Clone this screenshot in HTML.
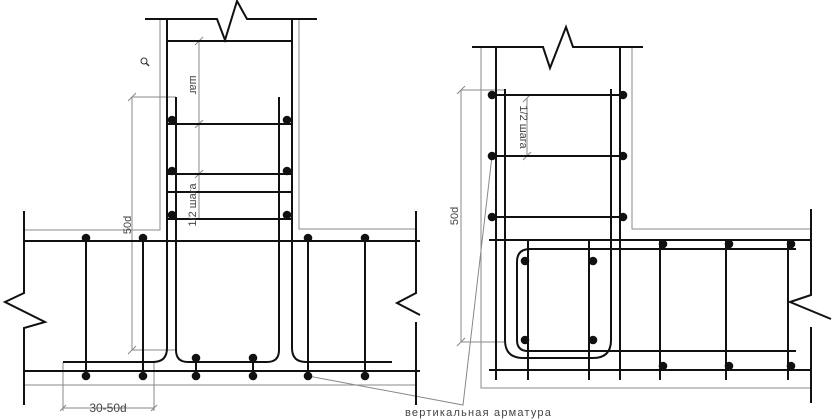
<!DOCTYPE html>
<html><head><meta charset="utf-8"><style>
html,body{margin:0;padding:0;background:#fff;}
svg{display:block;}
text{font-family:"Liberation Sans","DejaVu Sans",sans-serif;fill:#444;}
</style></head><body>
<svg width="840" height="420" viewBox="0 0 840 420" xmlns="http://www.w3.org/2000/svg">
<g fill="none" stroke="#888" stroke-width="1">
  <polyline points="160,19 160,230 25,230"/>
  <polyline points="299,19 299,229 415,229"/>
  <line x1="25" y1="385" x2="416" y2="385"/>
  <line x1="132" y1="97" x2="132" y2="350"/>
  <line x1="132" y1="97" x2="176" y2="97"/>
  <line x1="132" y1="350" x2="176" y2="350"/>
  <line x1="128" y1="101" x2="136" y2="93"/>
  <line x1="128" y1="354" x2="136" y2="346"/>
  <line x1="199" y1="41" x2="199" y2="219"/>
  <line x1="195" y1="45" x2="203" y2="37"/>
  <line x1="195" y1="128" x2="203" y2="120"/>
  <line x1="195" y1="178" x2="203" y2="170"/>
  <line x1="63" y1="362" x2="63" y2="411"/>
  <line x1="154" y1="362" x2="154" y2="411"/>
  <line x1="63" y1="408" x2="154" y2="408"/>
  <line x1="60" y1="411" x2="66" y2="405"/>
  <line x1="151" y1="411" x2="157" y2="405"/>
  <polyline points="308,376 463,405 492,156"/>
  <polyline points="481,47 481,388 810,388"/>
  <polyline points="632,47 632,229 810,229"/>
  <line x1="461" y1="90" x2="461" y2="342"/>
  <line x1="461" y1="90" x2="505" y2="90"/>
  <line x1="461" y1="342" x2="505" y2="342"/>
  <line x1="457" y1="94" x2="465" y2="86"/>
  <line x1="457" y1="346" x2="465" y2="338"/>
  <line x1="527" y1="98" x2="527" y2="156"/>
  <line x1="523" y1="102" x2="531" y2="94"/>
  <line x1="523" y1="160" x2="531" y2="152"/>
</g>
<g fill="none" stroke="#111" stroke-width="2">
  <polyline points="145,19 217,19 225,40 237,1 247,19 317,19"/>
  <line x1="167" y1="41" x2="292" y2="41"/>
  <path d="M167,19 V348 Q167,362 153,362 H63"/>
  <path d="M292,19 V348 Q292,362 306,362 H392"/>
  <path d="M176,97 V350 Q176,362 188,362 H267 Q279,362 279,350 V97"/>
  <line x1="167" y1="124" x2="292" y2="124"/>
  <line x1="167" y1="174" x2="292" y2="174"/>
  <line x1="167" y1="192" x2="292" y2="192"/>
  <line x1="167" y1="219" x2="292" y2="219"/>
  <polyline points="24,211 24,293 5,302 45,322 24,328 24,405"/>
  <polyline points="416,211 416,293 397,303 420,315"/>
  <line x1="416" y1="322" x2="416" y2="405"/>
  <line x1="25" y1="241" x2="420" y2="241"/>
  <line x1="25" y1="371" x2="420" y2="371"/>
  <line x1="86" y1="238" x2="86" y2="376"/>
  <line x1="143" y1="238" x2="143" y2="376"/>
  <line x1="308" y1="238" x2="308" y2="376"/>
  <line x1="365" y1="238" x2="365" y2="376"/>
  <line x1="196" y1="358" x2="196" y2="376"/>
  <line x1="253" y1="358" x2="253" y2="376"/>
  <polyline points="472,47 543,47 550,68 566,27 573,47 643,47"/>
  <line x1="496" y1="47" x2="496" y2="380"/>
  <line x1="620" y1="47" x2="620" y2="380"/>
  <path d="M505,89 V340 Q505,358 523,358 H593 Q611,358 611,340 V89"/>
  <line x1="493" y1="95" x2="624" y2="95"/>
  <line x1="493" y1="156" x2="624" y2="156"/>
  <line x1="493" y1="217" x2="624" y2="217"/>
  <line x1="489" y1="240" x2="810" y2="240"/>
  <line x1="489" y1="370" x2="810" y2="370"/>
  <polyline points="811,209 811,295 790,302 831,319"/>
  <line x1="811" y1="327" x2="811" y2="403"/>
  <path d="M796,249 H530 Q517,249 517,262 V340 Q517,351 528,351 H796"/>
  <line x1="528" y1="240" x2="528" y2="380"/>
  <line x1="589" y1="240" x2="589" y2="380"/>
  <line x1="660" y1="240" x2="660" y2="380"/>
  <line x1="726" y1="240" x2="726" y2="380"/>
  <line x1="788" y1="240" x2="788" y2="380"/>
</g>
<g fill="#111">
  <circle cx="172" cy="120" r="4.3"/><circle cx="287" cy="120" r="4.3"/>
  <circle cx="172" cy="171" r="4.3"/><circle cx="287" cy="171" r="4.3"/>
  <circle cx="172" cy="215" r="4.3"/><circle cx="287" cy="215" r="4.3"/>
  <circle cx="86" cy="238" r="4.3"/><circle cx="143" cy="238" r="4.3"/>
  <circle cx="308" cy="238" r="4.3"/><circle cx="365" cy="238" r="4.3"/>
  <circle cx="86" cy="376" r="4.3"/><circle cx="143" cy="376" r="4.3"/>
  <circle cx="196" cy="376" r="4.3"/><circle cx="253" cy="376" r="4.3"/>
  <circle cx="308" cy="376" r="4.3"/><circle cx="365" cy="376" r="4.3"/>
  <circle cx="196" cy="358" r="4.3"/><circle cx="253" cy="358" r="4.3"/>
  <circle cx="492" cy="95" r="4.3"/><circle cx="623" cy="95" r="4.3"/>
  <circle cx="492" cy="156" r="4.3"/><circle cx="623" cy="156" r="4.3"/>
  <circle cx="492" cy="217" r="4.3"/><circle cx="623" cy="217" r="4.3"/>
  <circle cx="663" cy="244" r="4.3"/><circle cx="729" cy="244" r="4.3"/><circle cx="791" cy="244" r="4.3"/>
  <circle cx="663" cy="366" r="4.3"/><circle cx="729" cy="366" r="4.3"/><circle cx="791" cy="366" r="4.3"/>
  <circle cx="525" cy="261" r="4.3"/><circle cx="593" cy="261" r="4.3"/>
  <circle cx="525" cy="340" r="4.3"/><circle cx="593" cy="340" r="4.3"/>
</g>
<circle cx="144" cy="61" r="3" fill="none" stroke="#333" stroke-width="1"/>
<line x1="146" y1="63" x2="149" y2="66" stroke="#333" stroke-width="1.5"/>
<g font-size="11">
  <text transform="translate(131,225) rotate(-90)" text-anchor="middle">50d</text>
  <text transform="translate(190,85) rotate(90)" text-anchor="middle">шаг</text>
  <text transform="translate(196,205) rotate(-90)" text-anchor="middle">1/2 шага</text>
  <text x="108" y="412" text-anchor="middle" font-size="12">30-50d</text>
  <text transform="translate(458,216) rotate(-90)" text-anchor="middle">50d</text>
  <text transform="translate(520,127) rotate(90)" text-anchor="middle">1/2 шага</text>
  <text x="405" y="416" letter-spacing="1.2">вертикальная арматура</text>
</g>
</svg>
</body></html>
